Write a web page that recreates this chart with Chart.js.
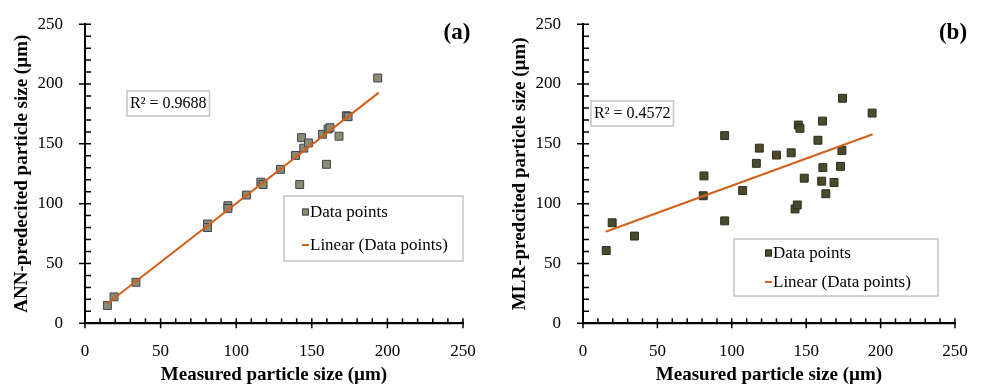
<!DOCTYPE html>
<html><head><meta charset="utf-8">
<script src="https://cdn.jsdelivr.net/npm/chart.js@4.4.0/dist/chart.umd.min.js"></script>
<style>
body{margin:0;background:#fff;width:984px;height:387px;overflow:hidden;position:relative;}
.wrap{position:absolute;top:0;width:492px;height:387px;}
canvas{display:block}
</style></head>
<body>
<div class="wrap" style="left:0"><canvas id="c1" width="492" height="387"></canvas></div>
<div class="wrap" style="left:492px"><canvas id="c2" width="492" height="387"></canvas></div>

<script>
// ---- data ----
const axisTicks = [0, 50, 100, 150, 200, 250];

const annMeasured = [14.8, 19.2, 33.7, 81, 81, 94.5, 94.5, 106.8, 116.3, 117.8, 129.3, 139.2, 142, 143.2, 144.7, 147.8, 157, 159.7, 160.8, 162, 168, 172.9, 174, 193.6];
const annPredicted = [14.9, 22.1, 34.3, 83, 80, 98.3, 96, 107.2, 118, 116, 128.7, 140.3, 116, 155.2, 146.4, 150.8, 158, 132.9, 162.4, 163.5, 156.4, 173.5, 172.7, 205];

const mlrMeasured = [15.6, 19.6, 34.6, 81.3, 80.8, 95.2, 95.2, 107.3, 116.5, 118.5, 130, 139.9, 142.5, 144, 144.7, 145.8, 148.7, 157.9, 160.4, 161, 161.2, 163.2, 168.7, 173.1, 174, 174.4, 194.3];
const mlrPredicted = [60.8, 84, 72.9, 123.2, 106.6, 156.9, 85.6, 111, 133.7, 146.4, 140.6, 142.5, 95.6, 98.9, 165.7, 163, 121.3, 153, 118.8, 169, 130.1, 108.3, 117.7, 131.2, 144.5, 188.1, 175.7];

const annTrendX = [14.8, 194.3];
const annTrendY = [16.6, 192.8];
const mlrTrendX = [15.2, 194.7];
const mlrTrendY = [76.5, 158.0];

const annR2 = 'R² = 0.9688';
const mlrR2 = 'R² = 0.4572';
const legendLabels = ['Data points', 'Linear (Data points)'];

const FONT = "'Liberation Serif','Times New Roman',serif";
const TREND = '#d2601a';

function pts(xs, ys){ return xs.map((x,i)=>({x:x, y:ys[i]})); }

const axesPlugin = {
  id: 'excelAxes',
  afterDraw(chart){
    const ctx = chart.ctx, xs = chart.scales.x, ys = chart.scales.y;
    const x0 = xs.getPixelForValue(0), y0 = ys.getPixelForValue(0);
    const x1 = xs.getPixelForValue(250), y1 = ys.getPixelForValue(250);
    ctx.save();
    ctx.strokeStyle = '#000000';
    ctx.lineWidth = 2;
    ctx.beginPath();
    ctx.moveTo(x0, y1); ctx.lineTo(x0, y0); ctx.lineTo(x1, y0);
    ctx.stroke();
    ctx.lineWidth = 1.5;
    ctx.beginPath();
    for (let v = 0; v <= 250; v += 10) {
      const major = v % 50 === 0;
      const px = xs.getPixelForValue(v);
      ctx.moveTo(px, y0 - 5); ctx.lineTo(px, y0 + (major ? 5 : 0));
      const py = ys.getPixelForValue(v);
      ctx.moveTo(x0 + 6, py); ctx.lineTo(x0 - (major ? 6 : 0), py);
    }
    ctx.stroke();
    ctx.restore();
  }
};

function annotPlugin(cfg){
  return {
    id: 'annot',
    afterDraw(chart){
      const ctx = chart.ctx;
      ctx.save();
      // R² box sized to its text
      ctx.font = "16px " + FONT;
      const tw = ctx.measureText(cfg.r2text).width;
      const bw = Math.max(82, tw + 6);
      ctx.fillStyle = '#fff';
      ctx.fillRect(cfg.r2x, cfg.r2y, bw, 25);
      ctx.strokeStyle = '#c4c4c4';
      ctx.lineWidth = 1.5;
      ctx.strokeRect(cfg.r2x, cfg.r2y, bw, 25);
      ctx.fillStyle = '#000';
      ctx.textBaseline = 'middle';
      ctx.textAlign = 'left';
      ctx.fillText(cfg.r2text, cfg.r2x + 3, cfg.r2y + 13);
      // legend box
      ctx.fillStyle = '#fff';
      ctx.fillRect(cfg.lx, cfg.ly, cfg.lw, cfg.lh);
      ctx.strokeStyle = '#c4c4c4';
      ctx.strokeRect(cfg.lx, cfg.ly, cfg.lw, cfg.lh);
      // item 1: square marker
      ctx.fillStyle = cfg.fill;
      ctx.fillRect(cfg.mx, cfg.i1 - 3.5, 7, 7);
      ctx.strokeStyle = cfg.border;
      ctx.lineWidth = 1;
      ctx.strokeRect(cfg.mx + 0.5, cfg.i1 - 3, 6, 6);
      ctx.fillStyle = '#000';
      ctx.font = "17px " + FONT;
      ctx.fillText(legendLabels[0], cfg.mx + 8, cfg.i1 + 1);
      // item 2: line marker
      ctx.strokeStyle = TREND;
      ctx.lineWidth = 2;
      ctx.beginPath();
      ctx.moveTo(cfg.mx, cfg.i2); ctx.lineTo(cfg.mx + 7, cfg.i2);
      ctx.stroke();
      ctx.fillText(legendLabels[1], cfg.mx + 8, cfg.i2 + 1);
      // panel label
      ctx.font = "bold 23px " + FONT;
      ctx.textAlign = 'center';
      ctx.fillText(cfg.panel, cfg.px, cfg.py);
      ctx.restore();
    }
  };
}

function makeChart(id, mx, my, tx, ty, fill, border, yTitle, yWidth, titlePad, ann){
  return new Chart(document.getElementById(id), {
    type: 'scatter',
    data: {
      datasets: [
        { label: legendLabels[1], data: pts(tx, ty), showLine: true, borderColor: TREND, borderWidth: 2, pointRadius: 0, fill: false },
        { label: legendLabels[0], data: pts(mx, my), pointStyle: 'rect', pointRadius: 5.6, backgroundColor: fill, borderColor: border, borderWidth: 1 }
      ]
    },
    options: {
      responsive: false, animation: false,
      layout: { padding: { top: 19.5, right: 29, bottom: 0, left: 0 } },
      plugins: { legend: { display: false }, tooltip: { enabled: false } },
      scales: {
        x: {
          type: 'linear', min: 0, max: 250,
          afterBuildTicks: s => { s.ticks = axisTicks.map(v => ({value: v})); },
          afterFit: s => { s.height = 63.7; },
          grid: { display: false },
          border: { display: true, color: '#000', width: 2 },
          ticks: { color: '#000', font: { family: FONT, size: 17 }, padding: 10, maxRotation: 0 },
          title: { display: true, text: 'Measured particle size (µm)', color: '#000', font: { family: FONT, size: 19, weight: 'bold' }, padding: { top: 0, bottom: 1 } }
        },
        y: {
          type: 'linear', min: 0, max: 250,
          afterBuildTicks: s => { s.ticks = axisTicks.map(v => ({value: v})); },
          afterFit: s => { s.width = yWidth; },
          grid: { display: false },
          border: { display: true, color: '#000', width: 2 },
          ticks: { color: '#000', font: { family: FONT, size: 17 }, padding: 14 },
          title: { display: true, text: yTitle, color: '#000', font: { family: FONT, size: 19, weight: 'bold' }, padding: { top: titlePad, bottom: 0 } }
        }
      }
    },
    plugins: [axesPlugin, annotPlugin(ann)]
  });
}

makeChart('c1', annMeasured, annPredicted, annTrendX, annTrendY, '#8d8a6e', '#3e4258',
  'ANN-predecited particle size (µm)', 85, 10.5,
  { r2x: 127, r2y: 91, r2text: annR2, lx: 284, ly: 196, lw: 179, lh: 65, mx: 302, i1: 212, i2: 245,
    fill: '#8d8a6e', border: '#3e4258', panel: '(a)', px: 457, py: 33 });
makeChart('c2', mlrMeasured, mlrPredicted, mlrTrendX, mlrTrendY, '#4b4a2c', '#2c2c1c',
  'MLR-predcited particle size (µm)', 91, 16.5,
  { r2x: 99, r2y: 101, r2text: mlrR2, lx: 242, ly: 239, lw: 204, lh: 57, mx: 273, i1: 253, i2: 282,
    fill: '#4b4a2c', border: '#2c2c1c', panel: '(b)', px: 461, py: 33 });
</script>
</body></html>
